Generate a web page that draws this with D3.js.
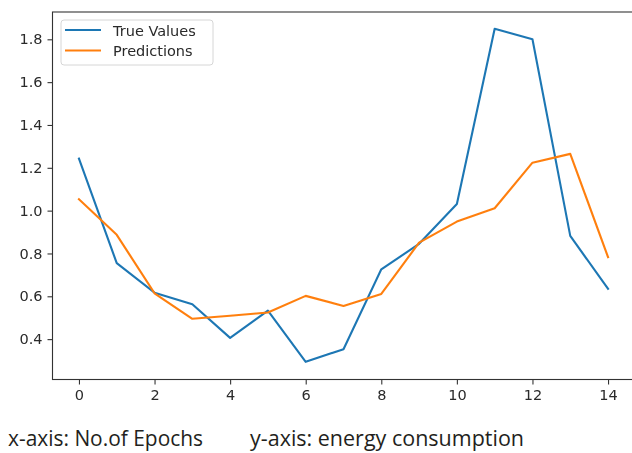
<!DOCTYPE html>
<html>
<head>
<meta charset="utf-8">
<script src="https://cdn.jsdelivr.net/npm/d3@7"></script>
<style>
  html, body { margin: 0; padding: 0; background: #fff; }
  svg { display: block; }
</style>
</head>
<body>
<svg id="chart" width="632" height="453"></svg>
<script>
// Epoch index, observed energy consumption and model predictions
const epochs = d3.range(0, 15);
const trueValues = [1.243, 0.755, 0.617, 0.563, 0.406, 0.533, 0.294, 0.353, 0.726, 0.845, 1.031, 1.849, 1.800, 0.882, 0.635];
const predictions = [1.053, 0.887, 0.614, 0.495, 0.509, 0.524, 0.602, 0.555, 0.611, 0.851, 0.949, 1.011, 1.224, 1.265, 0.783];
const xTicks = [0, 2, 4, 6, 8, 10, 12, 14];
const yTicks = [0.4, 0.6, 0.8, 1.0, 1.2, 1.4, 1.6, 1.8];
const seriesNames = ["True Values", "Predictions"];
const seriesColors = ["#1f77b4", "#ff7f0e"];
const captions = ["x-axis: No.of Epochs", "y-axis: energy consumption"];

const svg = d3.select("#chart");
const plot = { left: 52.5, right: 634.5, top: 12, bottom: 379.5 };

// Slight softening of the plotted figure
svg.append("defs").append("filter").attr("id", "soft")
  .append("feGaussianBlur").attr("stdDeviation", 0.35);

const fig = svg.append("g").attr("filter", "url(#soft)");

const x = d3.scaleLinear().domain([-0.7, 14.7]).range([plot.left, plot.right]);
const y = d3.scaleLinear().domain([0.2115, 1.9275]).range([plot.bottom, plot.top]);

const tickFont = "DejaVu Sans, sans-serif";

// Lines
const line = d3.line().x((d, i) => x(epochs[i])).y(d => y(d));
[trueValues, predictions].forEach((vals, k) => {
  fig.append("path")
    .datum(vals)
    .attr("d", line)
    .attr("fill", "none")
    .attr("stroke", seriesColors[k])
    .attr("stroke-width", 2.1)
    .attr("stroke-linejoin", "round")
    .attr("stroke-linecap", "square");
});

// Axes
const xAxis = d3.axisBottom(x).tickValues(xTicks).tickFormat(d3.format("d")).tickSize(5).tickPadding(5);
const yAxis = d3.axisLeft(y).tickValues(yTicks).tickFormat(d3.format(".1f")).tickSize(5).tickPadding(5);

const gx = fig.append("g").attr("transform", `translate(0,${plot.bottom})`).call(xAxis);
const gy = fig.append("g").attr("transform", `translate(${plot.left},0)`).call(yAxis);
[gx, gy].forEach(g => {
  g.select(".domain").remove();
  g.selectAll(".tick line").attr("stroke", "#333").attr("stroke-width", 1.1);
  g.selectAll(".tick text").attr("fill", "#2a2a2a").style("font-family", tickFont).style("font-size", "14.5px");
});

// Frame
fig.append("rect")
  .attr("x", plot.left).attr("y", plot.top)
  .attr("width", plot.right - plot.left).attr("height", plot.bottom - plot.top)
  .attr("fill", "none").attr("stroke", "#333").attr("stroke-width", 1.1);

// Legend
const legend = fig.append("g").attr("transform", "translate(61,20)");
legend.append("rect")
  .attr("width", 152).attr("height", 45).attr("rx", 3)
  .attr("fill", "#fff").attr("fill-opacity", 0.8)
  .attr("stroke", "#d6d6d6").attr("stroke-width", 1);
seriesNames.forEach((name, i) => {
  const row = legend.append("g").attr("transform", `translate(0,${10 + i * 20.5})`);
  row.append("line").attr("x1", 4).attr("x2", 40).attr("y1", 0).attr("y2", 0)
    .attr("stroke", seriesColors[i]).attr("stroke-width", 2.1);
  row.append("text").attr("x", 52).attr("y", 5.5)
    .attr("fill", "#2a2a2a").style("font-family", tickFont).style("font-size", "14.5px")
    .text(name);
});

// Caption below the chart
const capX = [8, 250];
const capW = [195, 274];
captions.forEach((c, i) => {
  svg.append("text").attr("x", capX[i]).attr("y", 446)
    .attr("fill", "#231f20").style("font-family", "Open Sans, sans-serif").style("font-size", "22px")
    .attr("textLength", capW[i]).attr("lengthAdjust", "spacingAndGlyphs")
    .text(c);
});
</script>
</body>
</html>
